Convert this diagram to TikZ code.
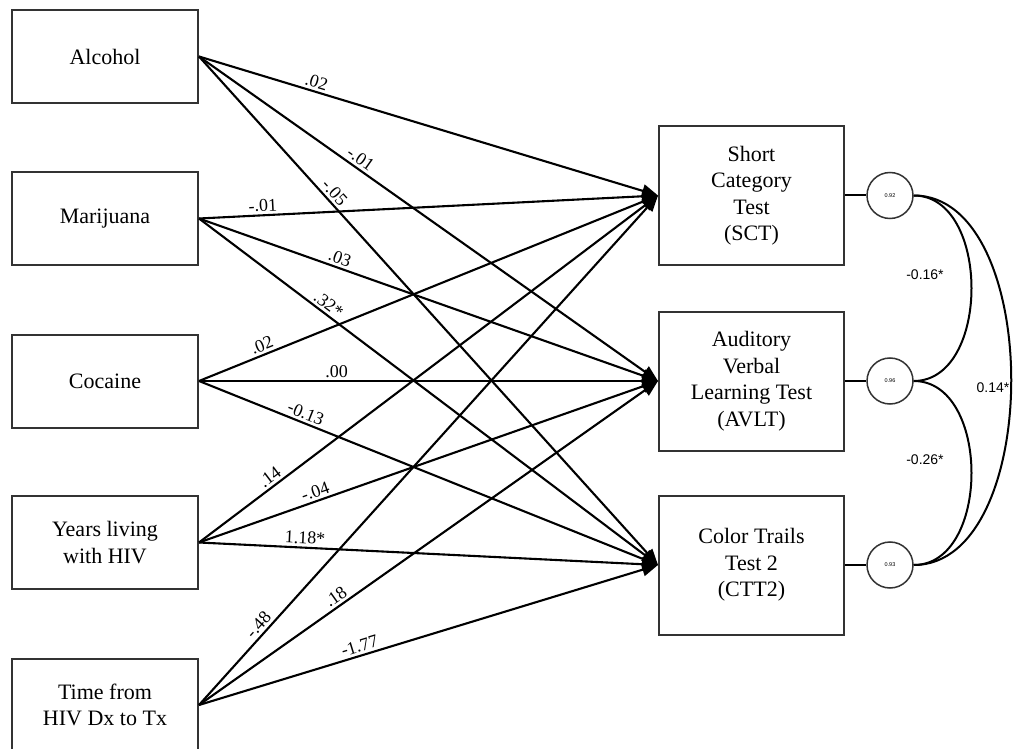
\documentclass[tikz,border=0pt]{standalone}
\usepackage{fontspec}
\setmainfont{Liberation Serif}
\newfontfamily\lsans{Liberation Sans}
\usetikzlibrary{arrows.meta}
\begin{document}
\begin{tikzpicture}[x=1pt,y=-1pt,
 varbox/.style={draw=black!80, line width=2pt, minimum width=186pt, minimum height=93pt, inner sep=0pt, align=center, font=\fontsize{22}{26.5}\selectfont},
 outbox/.style={varbox, minimum width=185pt, minimum height=139pt},
 errc/.style={draw=black!80, line width=1.5pt, circle, minimum size=46pt, inner sep=0pt, font=\lsans\fontsize{5.5}{6}\selectfont},
 reg/.style={line width=2.1pt, -{Triangle[length=16pt,width=13pt]}},
 coef/.style={font=\fontsize{18}{20}\selectfont, sloped, above, inner sep=2.5pt},
 cov/.style={line width=2pt},
 covlab/.style={font=\lsans\fontsize{14}{16}\selectfont}
]
\useasboundingbox (0,0) rectangle (1013,749);
\fill[white] (0,0) rectangle (1013,749);

% predictors
\node[varbox] (alc) at (105,56.5) {Alcohol};
\node[varbox] (mar) at (105,218.5) {Marijuana};
\node[varbox] (coc) at (105,381) {Cocaine};
\node[varbox] (yrs) at (105,542.5) {Years living\\with HIV};
\node[varbox] (tim) at (105,705) {Time from\\HIV Dx to Tx};

% outcomes
\node[outbox] (sct) at (751.5,195.5) {Short\\Category\\Test\\(SCT)};
\node[outbox] (avlt) at (751.5,381) {Auditory\\Verbal\\Learning Test\\(AVLT)};
\node[outbox] (ctt) at (751.5,565) {Color Trails\\Test 2\\(CTT2)};

% error terms
\node[errc] (e1) at (890,195.5) {0.92};
\node[errc] (e2) at (890,381) {0.96};
\node[errc] (e3) at (890,565) {0.93};

% paths
\draw[reg] (alc.east) -- node[coef,pos=0.25]{.02} (sct.west);
\draw[reg] (alc.east) -- node[coef,pos=0.34]{-.01} (avlt.west);
\draw[reg] (alc.east) -- node[coef,pos=0.28]{-.05} (ctt.west);

\draw[reg] (mar.east) -- node[coef,pos=0.14]{-.01} (sct.west);
\draw[reg] (mar.east) -- node[coef,pos=0.30]{.03} (avlt.west);
\draw[reg] (mar.east) -- node[coef,pos=0.27]{.32*} (ctt.west);

\draw[reg] (coc.east) -- node[coef,pos=0.145]{.02} (sct.west);
\draw[reg] (coc.east) -- node[coef,pos=0.30]{.00} (avlt.west);
\draw[reg] (coc.east) -- node[coef,pos=0.225]{-0.13} (ctt.west);

\draw[reg] (yrs.east) -- node[coef,pos=0.167]{.14} (sct.west);
\draw[reg] (yrs.east) -- node[coef,pos=0.26]{-.04} (avlt.west);
\draw[reg] (yrs.east) -- node[coef,pos=0.23]{1.18*} (ctt.west);

\draw[reg] (tim.east) -- node[coef,pos=0.145]{-.48} (sct.west);
\draw[reg] (tim.east) -- node[coef,pos=0.31]{.18} (avlt.west);
\draw[reg] (tim.east) -- node[coef,pos=0.356]{-1.77} (ctt.west);

% error links
\draw[cov] (sct.east) -- (e1.west);
\draw[cov] (avlt.east) -- (e2.west);
\draw[cov] (ctt.east) -- (e3.west);

% covariances
\draw[cov] (e1.east) .. controls +(77,0) and +(77,0) .. (e2.east);
\draw[cov] (e2.east) .. controls +(77,0) and +(77,0) .. (e3.east);
\draw[cov] (e1.east) .. controls +(130,0) and +(130,0) .. (e3.east);

\node[covlab] (l1) at (925,275) {-0.16*};
\node[covlab] (l2) at (925,460) {-0.26*};
\node[covlab] (l3) at (993,388) {0.14*};
\end{tikzpicture}
\end{document}
